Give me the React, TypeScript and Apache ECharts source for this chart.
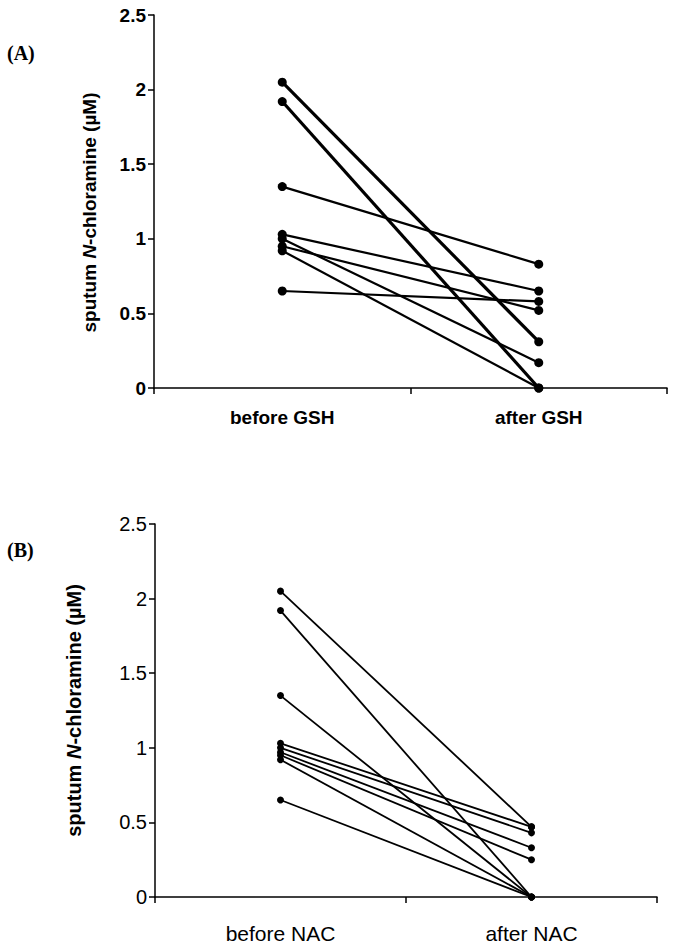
import React, { useEffect, useRef } from "react";
import * as echarts from "echarts";

const categoriesA = ["before GSH", "after GSH"];
const categoriesB = ["before NAC", "after NAC"];
const yTicks = [0, 0.5, 1, 1.5, 2, 2.5];

// Panel A: GSH, one line per subject (before -> after)
const beforeA = [2.05, 1.92, 1.35, 1.03, 1.0, 0.95, 0.92, 0.65];
const afterA = [0.31, 0, 0.83, 0.65, 0.17, 0.52, 0, 0.58];
const widthA = [3.2, 3.2, 2.2, 2.2, 2.2, 2.2, 2.2, 2.2];

// Panel B: NAC
const beforeB = [2.05, 1.92, 1.35, 1.03, 1.0, 0.97, 0.95, 0.92, 0.65];
const afterB = [0.47, 0, 0, 0.47, 0.43, 0.33, 0.25, 0, 0];

const yTitle = "{a|sputum }{i|N}{a|-chloramine (µM)}";

export default function App() {
  const ref = useRef<HTMLDivElement>(null);
  useEffect(() => {
    if (!ref.current) return;
    const chart = echarts.init(ref.current, undefined, { renderer: "svg" });
    const font = "Arial, 'Liberation Sans', sans-serif";
    const axisLine = { show: true, lineStyle: { color: "#000", width: 1.5 } };
    const seriesA = beforeA.map((b, i) => ({
      type: "line",
      xAxisIndex: 0,
      yAxisIndex: 0,
      data: [b, afterA[i]],
      symbol: "circle",
      symbolSize: 9,
      lineStyle: { color: "#000", width: widthA[i] },
      itemStyle: { color: "#000" },
      silent: true,
    }));
    const seriesB = beforeB.map((b, i) => ({
      type: "line",
      xAxisIndex: 1,
      yAxisIndex: 1,
      data: [b, afterB[i]],
      symbol: "circle",
      symbolSize: 7,
      lineStyle: { color: "#000", width: 1.8 },
      itemStyle: { color: "#000" },
      silent: true,
    }));
    const yAxisBase = (bold: boolean, size: number, gap: number, titleSize: number, pad: number[]) => ({
      type: "value",
      min: yTicks[0],
      max: yTicks[yTicks.length - 1],
      interval: 0.5,
      axisLine,
      axisTick: { show: true, length: 6, lineStyle: { color: "#000", width: 1.5 } },
      splitLine: { show: false },
      axisLabel: {
        color: "#000",
        fontFamily: font,
        fontWeight: bold ? "bold" : "normal",
        fontSize: size,
        margin: 8,
      },
      name: yTitle,
      nameLocation: "middle",
      nameRotate: 90,
      nameGap: gap,
      nameTextStyle: {
        padding: pad,
        rich: {
          a: { fontFamily: font, fontWeight: "bold", fontSize: titleSize, color: "#000" },
          i: { fontFamily: font, fontWeight: "bold", fontStyle: "italic", fontSize: titleSize, color: "#000" },
        },
      },
    });
    const xAxisBase = (cats: string[], gridIndex: number, bold: boolean, size: number, margin: number) => ({
      type: "category",
      gridIndex,
      data: cats,
      boundaryGap: true,
      axisLine,
      axisTick: { show: true, length: 6, alignWithLabel: false, lineStyle: { color: "#000", width: 1.5 } },
      axisLabel: {
        color: "#000",
        fontFamily: font,
        fontWeight: bold ? "bold" : "normal",
        fontSize: size,
        margin,
      },
      splitLine: { show: false },
    });
    chart.setOption({
      animation: false,
      backgroundColor: "#fff",
      grid: [
        { left: 154, top: 15, width: 513, height: 373, containLabel: false },
        { left: 155, top: 524, width: 502, height: 373, containLabel: false },
      ],
      xAxis: [
        xAxisBase(categoriesA, 0, true, 19, 20),
        xAxisBase(categoriesB, 1, false, 21, 26),
      ],
      yAxis: [
        { ...yAxisBase(true, 19, 55, 19, [0, 22, 0, 0]), gridIndex: 0 },
        { ...yAxisBase(false, 20, 71, 20, [0, 0, 0, 0]), gridIndex: 1 },
      ],
      series: [...seriesA, ...seriesB],
      graphic: [
        {
          type: "text",
          left: 7,
          top: 43,
          style: { text: "(A)", font: "bold 20px 'Liberation Serif', 'Times New Roman', serif", fill: "#000" },
        },
        {
          type: "text",
          left: 7,
          top: 540,
          style: { text: "(B)", font: "bold 20px 'Liberation Serif', 'Times New Roman', serif", fill: "#000" },
        },
      ],
    });
    return () => chart.dispose();
  }, []);
  return (
    <div
      ref={ref}
      style={{ position: "absolute", left: 0, top: 0, width: 692, height: 949, background: "#fff" }}
    />
  );
}
